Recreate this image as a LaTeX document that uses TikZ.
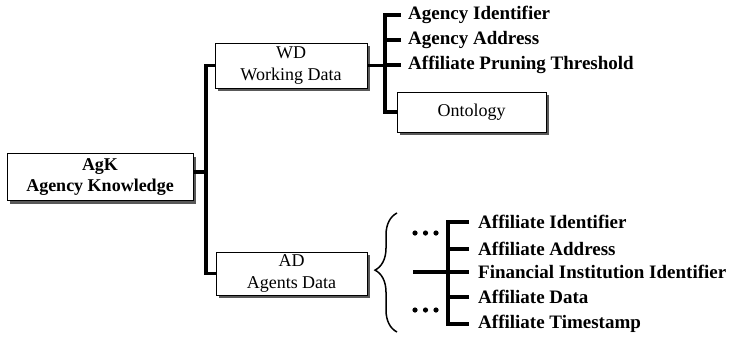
\documentclass[tikz,border=0pt]{standalone}
\usepackage{fontspec}
\setmainfont{Liberation Serif}
\usetikzlibrary{shadows,decorations.pathreplacing}

\begin{document}
\begin{tikzpicture}[x=1pt, y=-1pt, line join=miter,
    box/.style={draw, line width=0.6pt, fill=white, align=center, inner sep=0pt,
      font=\fontsize{18}{21.5}\selectfont,
      drop shadow={shadow xshift=3pt, shadow yshift=-3pt, fill=black!65, opacity=1}},
    leaf/.style={anchor=west, inner sep=0pt, font=\fontsize{19}{20}\selectfont\bfseries},
    trunk/.style={line width=3.2pt}]
    \useasboundingbox (0,0) rectangle (730,338);

    % root
    \node[box, minimum width=186pt, minimum height=47pt, font=\fontsize{18}{21.5}\selectfont\bfseries] (agk) at (100,177) {AgK\\Agency Knowledge};

    % first level
    \node[box, minimum width=152pt, minimum height=45pt] (wd) at (291,65.5) {WD\\Working Data};
    \node[box, minimum width=151pt, minimum height=43pt] (ad) at (291.5,273.5) {AD\\Agents Data};

    % trunk from root
    \coordinate (j0) at (206,0);
    \draw[trunk] ([yshift=5pt]agk.east) -- ([yshift=5pt]agk.east -| j0);
    \draw[trunk] (wd.west) -| (j0 |- ad.west) -- (ad.west);

    % working data
    \node[leaf] (agid) at (408,15) {Agency Identifier};
    \node[leaf] (agaddr) at (408,40) {Agency Address};
    \node[leaf] (prune) at (408,65) {Affiliate Pruning Threshold};
    \node[box, minimum width=149pt, minimum height=40pt] (onto) at (471.5,112) {Ontology};
    \coordinate (j1) at (385,0);
    \draw[trunk] (wd.east) -- (wd.east -| j1);
    \draw[trunk] ([xshift=-7pt]agid.west) -| (j1 |- onto.west) -- (onto.west);
    \foreach \n in {agaddr, prune}
        \draw[trunk] ([xshift=-7pt]\n.west) -- (\n.west -| j1);

    % agents data
    \draw[line width=1.5pt, decorate, decoration={brace, amplitude=22pt, aspect=0.52}]
        (397,332) -- (397,213);
    \node[leaf] (afid) at (478,222) {Affiliate Identifier};
    \node[leaf] (afaddr) at (478,249) {Affiliate Address};
    \node[leaf] (finst) at (478,272) {Financial Institution Identifier};
    \node[leaf] (afdata) at (478,297) {Affiliate Data};
    \node[leaf] (afts) at (478,324) {Affiliate Timestamp};
    \coordinate (j2) at (448,0);
    \coordinate (s2) at (413,272);
    \draw[trunk] ([xshift=-9pt]afid.west) -| (j2 |- afts.west) -- ([xshift=-9pt]afts.west);
    \draw[trunk] (s2) -- ([xshift=-9pt]finst.west);
    \foreach \n in {afaddr, afdata}
        \draw[trunk] ([xshift=-9pt]\n.west) -- (\n.west -| j2);
    \foreach \y in {233,310}
        \foreach \x in {415,425.5,436}
            \fill (\x,\y) circle (2.6pt);
\end{tikzpicture}
\end{document}
